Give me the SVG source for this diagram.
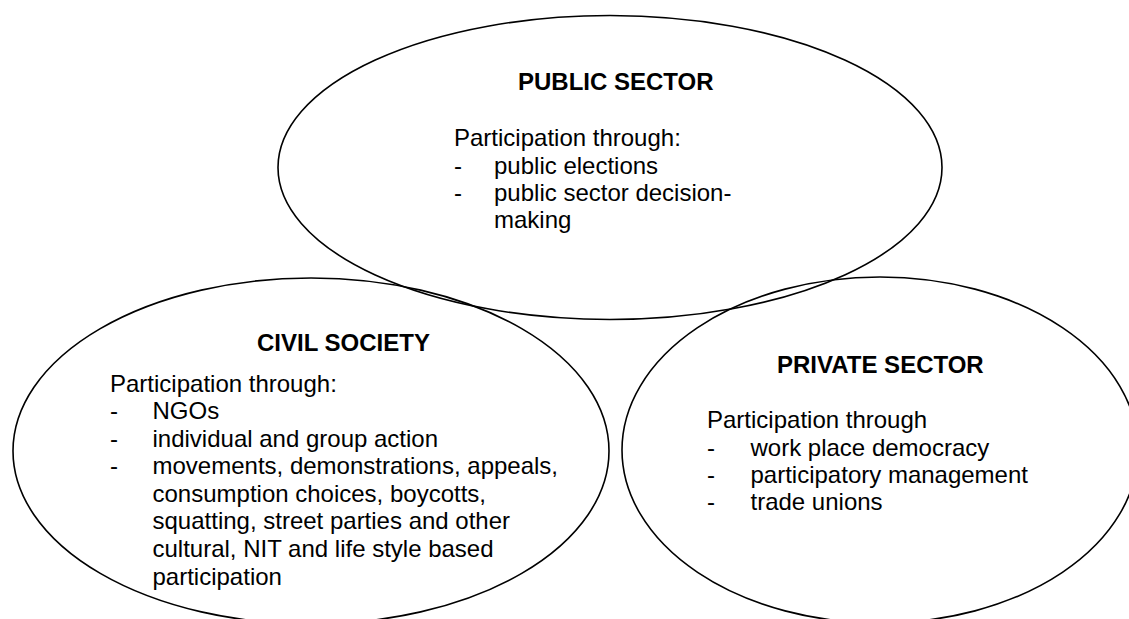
<svg xmlns="http://www.w3.org/2000/svg" width="1129" height="619" viewBox="0 0 1129 619">
<style>
.shape{fill:none;stroke:#000;stroke-width:1.6}
.t{font-family:"Liberation Sans",Arial,sans-serif;font-size:24px;fill:#000}
.h{font-family:"Liberation Sans",Arial,sans-serif;font-size:24px;font-weight:bold;fill:#000}
</style>
<rect width="1129" height="619" fill="#fff"/>
<g id="public-sector">
<ellipse class="shape" cx="610" cy="167.5" rx="332" ry="152"/>
<text class="h" x="518" y="90">PUBLIC SECTOR</text>
<text class="t" x="454" y="146">Participation through:</text>
<text class="t" x="454" y="174">-</text><text class="t" x="494" y="174">public elections</text>
<text class="t" x="454" y="201">-</text><text class="t" x="494" y="201">public sector decision-</text>
<text class="t" x="494" y="228">making</text>
</g>
<g id="civil-society">
<ellipse class="shape" cx="311" cy="451" rx="298" ry="173"/>
<text class="h" x="257" y="351">CIVIL SOCIETY</text>
<text class="t" x="110" y="392">Participation through:</text>
<text class="t" x="110" y="419">-</text><text class="t" x="152.5" y="419">NGOs</text>
<text class="t" x="110" y="447">-</text><text class="t" x="152.5" y="447">individual and group action</text>
<text class="t" x="110" y="474">-</text><text class="t" x="152.5" y="474">movements, demonstrations, appeals,</text>
<text class="t" x="152.5" y="502">consumption choices, boycotts,</text>
<text class="t" x="152.5" y="529">squatting, street parties and other</text>
<text class="t" x="152.5" y="557">cultural, NIT and life style based</text>
<text class="t" x="152.5" y="585">participation</text>
</g>
<g id="private-sector">
<ellipse class="shape" cx="880" cy="450" rx="258" ry="173"/>
<text class="h" x="777" y="373">PRIVATE SECTOR</text>
<text class="t" x="707" y="428">Participation through</text>
<text class="t" x="707" y="456">-</text><text class="t" x="750.5" y="456">work place democracy</text>
<text class="t" x="707" y="483">-</text><text class="t" x="750.5" y="483">participatory management</text>
<text class="t" x="707" y="510">-</text><text class="t" x="750.5" y="510">trade unions</text>
</g>
<g id="connectors"/>
</svg>
